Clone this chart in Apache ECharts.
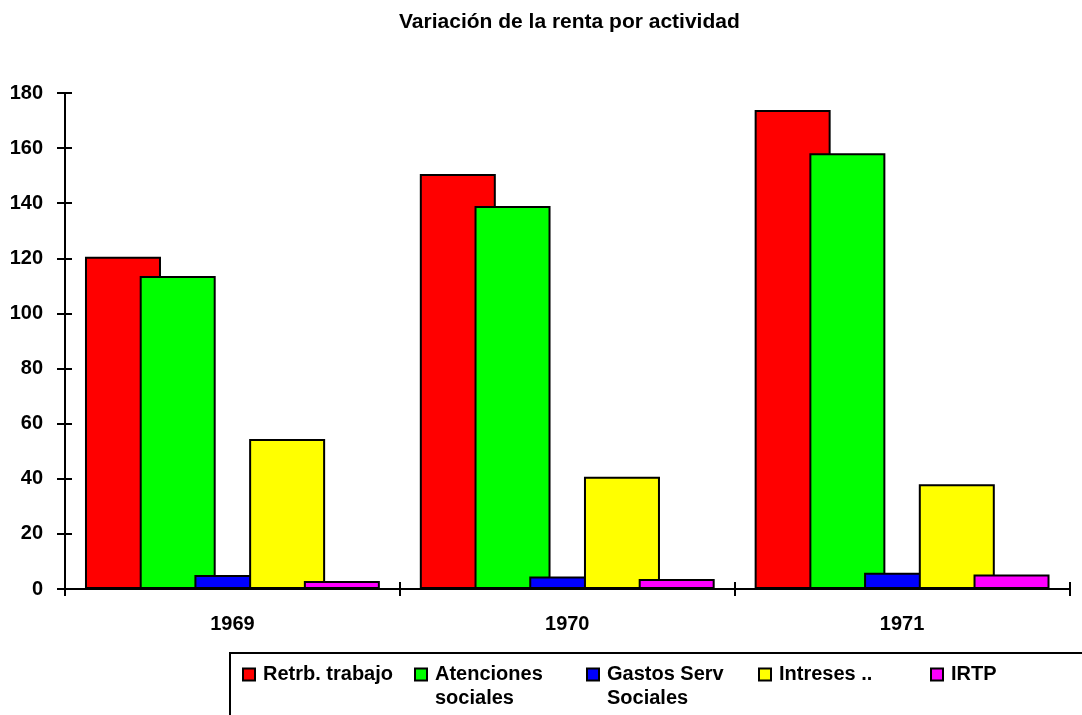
<!DOCTYPE html>
<html>
<head>
<meta charset="utf-8">
<script src="https://cdn.jsdelivr.net/npm/echarts@6/dist/echarts.min.js"></script>
<style>
  html, body { margin: 0; padding: 0; background: #ffffff; }
  #rentaBar { width: 1082px; height: 715px; }
</style>
</head>
<body>
<div id="rentaBar"></div>
<script>
  // datos
  let years = ['1969', '1970', '1971']
  let seriesNames = ['Retrb. trabajo', 'Atenciones\nsociales', 'Gastos Serv\nSociales', 'Intreses ..', 'IRTP']
  let retrbTrabajo = [120.6, 150.6, 173.8]
  let atenciones = [113.6, 139, 158.1]
  let gastosServ = [5.1, 4.5, 5.9]
  let intreses = [54.4, 40.7, 38]
  let irtp = [2.9, 3.6, 5.3]
  let yTicks = [0, 180, 20]   // min, max, interval

  let values = [retrbTrabajo, atenciones, gastosServ, intreses, irtp]
  let colors = ['#ff0000', '#00ff00', '#0000ff', '#ffff00', '#ff00ff']
  let font = "'Liberation Sans', Arial, sans-serif"

  let myChart = echarts.init(document.getElementById('rentaBar'))

  let legendData = seriesNames.map(function (n) {
    return {
      name: n,
      textStyle: { width: n === 'IRTP' ? 100 : 147 }
    }
  })

  myChart.setOption({
    animation: false,
    color: colors,
    title: {
      text: 'Variación de la renta por actividad',
      left: 394,
      top: 7,
      textStyle: { fontFamily: font, fontSize: 21, fontWeight: 'bold', color: '#000' }
    },
    legend: {
      left: 230,
      top: 653,
      width: 900,
      orient: 'horizontal',
      icon: 'rect',
      itemWidth: 12,
      itemHeight: 12,
      itemGap: 4,
      padding: [-14.5, 100, 60, 12],
      borderColor: '#000',
      borderWidth: 2,
      itemStyle: { borderColor: '#000', borderWidth: 2 },
      // linea vacia arriba para que la primera linea quede junto al cuadrado
      formatter: function (name) {
        return name.indexOf('\n') > -1 ? ' \n' + name : name
      },
      textStyle: {
        fontFamily: font, fontSize: 20, fontWeight: 'bold', color: '#000',
        lineHeight: 24, padding: [0, 0, 0, 3], backgroundColor: 'transparent'
      },
      data: legendData
    },
    grid: { left: 65, right: 12.5, top: 93, bottom: 126, containLabel: false },
    xAxis: [{
      type: 'category',
      data: years,
      position: 'bottom',
      axisLine: { lineStyle: { color: '#000', width: 2 } },
      axisTick: { show: true, length: 7, lineStyle: { color: '#000', width: 2 } },
      axisLabel: { margin: 25, fontFamily: font, fontSize: 20, fontWeight: 'bold', color: '#000' }
    }, {
      type: 'category',
      data: years,
      position: 'bottom',
      axisLine: { show: false },
      axisTick: { show: true, inside: true, length: 7, lineStyle: { color: '#000', width: 2 } },
      axisLabel: { show: false }
    }],
    yAxis: [{
      type: 'value',
      min: yTicks[0],
      max: yTicks[1],
      interval: yTicks[2],
      axisLine: { show: true, lineStyle: { color: '#000', width: 2 } },
      axisTick: { show: true, length: 8, lineStyle: { color: '#000', width: 2 } },
      splitLine: { show: false },
      axisLabel: { margin: 22, fontFamily: font, fontSize: 20, fontWeight: 'bold', color: '#000' }
    }, {
      type: 'value',
      position: 'left',
      min: yTicks[0],
      max: yTicks[1],
      interval: yTicks[2],
      axisLine: { show: false },
      axisTick: { show: true, inside: true, length: 7, lineStyle: { color: '#000', width: 2 } },
      splitLine: { show: false },
      axisLabel: { show: false }
    }],
    series: seriesNames.map(function (n, i) {
      return {
        name: n,
        type: 'bar',
        xAxisIndex: 0,
        yAxisIndex: 0,
        barWidth: 76,
        barGap: '-28%',
        data: values[i],
        itemStyle: { color: colors[i], borderColor: '#000', borderWidth: 2 }
      }
    })
  })
</script>
</body>
</html>
